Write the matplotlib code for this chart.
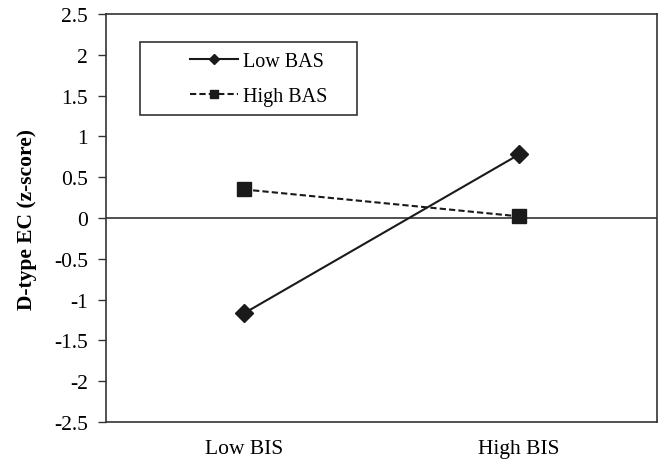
import matplotlib.pyplot as plt
from matplotlib.patches import Rectangle
import numpy as np

plt.rcParams['font.family'] = ['Liberation Serif', 'DejaVu Serif']

# Data
categories = ['Low BIS', 'High BIS']
low_bas = [-1.17, 0.78]
high_bas = [0.35, 0.02]
yticks = np.arange(-2.5, 2.51, 0.5)

fig = plt.figure(figsize=(6.61, 4.64), dpi=100)
ax = fig.add_axes([106 / 661, 1 - 423 / 464, 551 / 661, 408 / 464])

x = np.arange(len(categories))
ax.plot(x, low_bas, color='#1a1a1a', lw=1.5, ls='-', marker='D', ms=9,
        label='Low BAS')
ax.plot(x, high_bas, color='#1a1a1a', lw=1.5, ls=(0, (3, 1.5)), marker='s', ms=10,
        label='High BAS')

# zero line (category axis crossing)
ax.axhline(0, color='#333333', lw=1.2, zorder=0)

ax.set_xlim(-0.5, 1.5)
ax.set_ylim(-2.5, 2.5)
ax.set_yticks(yticks)
ax.set_yticklabels([f'{v:g}' for v in yticks], fontsize=15.5)
ax.set_xticks(x)
ax.set_xticklabels(categories, fontsize=15.5)
ax.tick_params(axis='x', length=0, pad=12)
ax.tick_params(axis='y', length=6, width=1, direction='out', color='#333333', pad=7)

for s in ax.spines.values():
    s.set_color('#333333')
    s.set_linewidth(1.2)

ax.set_ylabel('D-type EC (z-score)', fontsize=15.5, fontweight='bold', labelpad=12)

# legend frame drawn separately (wider than its content, as in the original)
ax.add_patch(Rectangle((34 / 551, (423 - 116) / 408), 217 / 551, 73 / 408,
                       transform=ax.transAxes, fill=False, ec='#333333', lw=1.2, zorder=3))
ax.legend(loc='center left', bbox_to_anchor=(84 / 551, (423 - 80) / 408),
          fontsize=14.5, frameon=False, markerscale=0.55,
          handlelength=2.4, handletextpad=0.25, labelspacing=0.75, borderpad=0,
          borderaxespad=0)

fig.savefig('out.png', dpi=100)
